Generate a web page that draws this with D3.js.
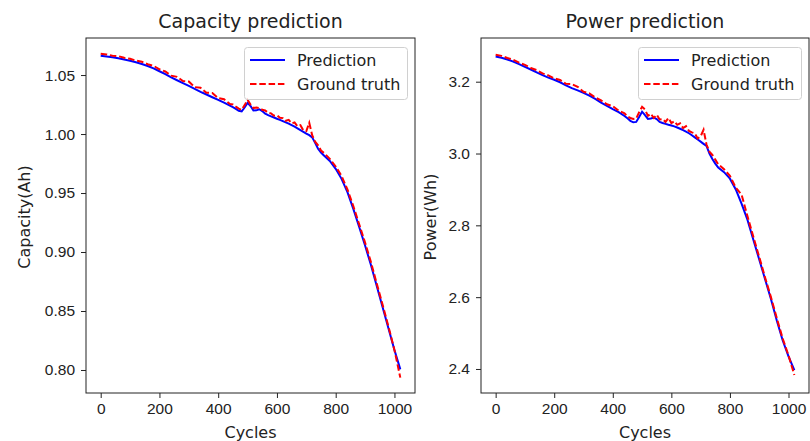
<!DOCTYPE html>
<html>
<head>
<meta charset="utf-8">
<script src="https://cdn.jsdelivr.net/npm/d3@7"></script>
<style>
	body { margin: 0; background: #fff; }
	svg { display: block; font-family: "DejaVu Sans", sans-serif; }
	.tick text { fill: #222; font-size: 15.5px; }
	.tick line { stroke: #222; }
</style>
</head>
<body>
<svg id="chart" width="810" height="441"></svg>
<script>

function whenDocumentLoaded(action) {
	if (document.readyState === "loading") {
		document.addEventListener("DOMContentLoaded", action);
	} else {
		action();
	}
}

const CYCLES = [0, 20, 40, 60, 80, 100, 120, 140, 160, 180, 200, 220, 240, 260, 280, 300, 320, 340, 360, 380, 400, 420, 440,
	450, 460, 470, 480, 490, 500, 510, 520, 530, 540, 550, 560, 570, 580, 590, 600, 610, 620, 630, 640,
	650, 660, 670, 680, 690, 700, 710, 720, 730, 740, 750, 760,
	780, 800, 820, 840, 860, 880, 900, 920, 940, 960, 980, 1000, 1020];

const CAPACITY_PRED = [1.0663, 1.0657, 1.0650, 1.0642, 1.0632, 1.0621, 1.0608, 1.0594, 1.0577, 1.0556, 1.0532, 1.0507, 1.0480, 1.0456, 1.0432, 1.0408, 1.0383, 1.0358, 1.0335, 1.0312, 1.0290, 1.0266, 1.0240,
	1.0228, 1.0213, 1.0197, 1.0192, 1.0225, 1.0264, 1.0238, 1.0199, 1.0201, 1.0210, 1.0195, 1.0172, 1.0160, 1.0150, 1.0140, 1.0130, 1.0120, 1.0110, 1.0099, 1.0088,
	1.0075, 1.0062, 1.0048, 1.0033, 1.0018, 1.0003, 0.9990, 0.9972, 0.9925, 0.9875, 0.9842, 0.9818,
	0.9772, 0.9705, 0.9620, 0.9508, 0.9365, 0.9212, 0.9055, 0.8890, 0.8710, 0.8530, 0.8350, 0.8170, 0.8005];

const CAPACITY_TRUE = [1.0680, 1.0675, 1.0664, 1.0660, 1.0646, 1.0638, 1.0622, 1.0613, 1.0592, 1.0578, 1.0549, 1.0530, 1.0495, 1.0485, 1.0450, 1.0445, 1.0398, 1.0392, 1.0350, 1.0348, 1.0305, 1.0295, 1.0255,
	1.0250, 1.0232, 1.0215, 1.0205, 1.0245, 1.0290, 1.0250, 1.0220, 1.0225, 1.0220, 1.0205, 1.0200, 1.0180, 1.0175, 1.0155, 1.0160, 1.0138, 1.0135, 1.0112, 1.0120,
	1.0090, 1.0098, 1.0065, 1.0075, 1.0030, 1.0025, 1.0095, 0.9990, 0.9935, 0.9905, 0.9860, 0.9840,
	0.9790, 0.9725, 0.9645, 0.9530, 0.9390, 0.9235, 0.9080, 0.8915, 0.8730, 0.8550, 0.8365, 0.8170, 0.7935];

const POWER_PRED = [3.2700, 3.2665, 3.2620, 3.2560, 3.2490, 3.2415, 3.2340, 3.2262, 3.2185, 3.2115, 3.2055, 3.1985, 3.1900, 3.1820, 3.1760, 3.1690, 3.1610, 3.1520, 3.1420, 3.1325, 3.1235, 3.1150, 3.1045,
	3.0980, 3.0910, 3.0870, 3.0880, 3.1020, 3.1165, 3.1070, 3.0965, 3.0975, 3.1000, 3.0960, 3.0880, 3.0850, 3.0825, 3.0800, 3.0780, 3.0755, 3.0725, 3.0690, 3.0650,
	3.0610, 3.0565, 3.0510, 3.0450, 3.0390, 3.0330, 3.0270, 3.0210, 3.0000, 2.9850, 2.9720, 2.9610,
	2.9480, 2.9300, 2.9000, 2.8600, 2.8150, 2.7600, 2.7050, 2.6500, 2.5950, 2.5350, 2.4800, 2.4350, 2.3970];

const POWER_TRUE = [3.2750, 3.2720, 3.2660, 3.2610, 3.2530, 3.2470, 3.2380, 3.2325, 3.2230, 3.2175, 3.2090, 3.2050, 3.1940, 3.1935, 3.1860, 3.1720, 3.1675, 3.1560, 3.1480, 3.1370, 3.1320, 3.1195, 3.1120,
	3.1030, 3.0990, 3.0960, 3.0975, 3.1150, 3.1300, 3.1225, 3.1050, 3.1110, 3.0990, 3.1080, 3.0950, 3.0960, 3.0880, 3.0990, 3.0850, 3.0900, 3.0800, 3.0840, 3.0710,
	3.0760, 3.0630, 3.0590, 3.0560, 3.0420, 3.0480, 3.0660, 3.0250, 3.0050, 2.9960, 2.9830, 2.9700,
	2.9560, 2.9380, 2.9050, 2.8850, 2.8250, 2.7680, 2.7120, 2.6550, 2.6000, 2.5420, 2.4850, 2.4380, 2.3830];

const CYCLE_TICKS = [0, 200, 400, 600, 800, 1000];
const CAPACITY_TICKS = [0.80, 0.85, 0.90, 0.95, 1.00, 1.05];
const POWER_TICKS = [2.4, 2.6, 2.8, 3.0, 3.2];
const SERIES_NAMES = ['Prediction', 'Ground truth'];

class LinePanel {
	constructor(svg, opts) {
		this.svg = svg;
		this.opts = opts;
		this.scale = {};
		this.scale.x = d3.scaleLinear()
			.domain([-50, 1070])
			.range([opts.left, opts.right]);
		this.scale.y = d3.scaleLinear()
			.domain(opts.yDomain)
			.range([393, 38]);
	}

	show() {
		const o = this.opts;
		const g = this.svg.append("g");
		const pred = CYCLES.map((c, i) => ({ x: c, y: o.pred[i] }));
		const truth = CYCLES.map((c, i) => ({ x: c, y: o.truth[i] }));
		const line = d3.line()
			.x((d) => this.scale.x(d.x))
			.y((d) => this.scale.y(d.y));

		g.append("path")
			.datum(pred)
			.attr("d", line)
			.attr("fill", "none")
			.attr("stroke", "#0000ff")
			.attr("stroke-width", 2);
		g.append("path")
			.datum(truth)
			.attr("d", line)
			.attr("fill", "none")
			.attr("stroke", "#ff0000")
			.attr("stroke-width", 2)
			.attr("stroke-dasharray", "6.5,2.8");

		const xAxis = d3.axisBottom(this.scale.x).tickValues(CYCLE_TICKS)
			.tickSize(5).tickSizeOuter(0).tickPadding(5).tickFormat(d3.format("d"));
		const yAxis = d3.axisLeft(this.scale.y).tickValues(o.yTicks)
			.tickSize(5).tickSizeOuter(0).tickPadding(6).tickFormat(d3.format(o.yFormat));
		const gx = g.append("g")
			.attr("transform", "translate(0,393)")
			.call(xAxis);
		const gy = g.append("g")
			.attr("transform", `translate(${o.left},0)`)
			.call(yAxis);
		gx.select(".domain").remove();
		gy.select(".domain").remove();
		g.selectAll(".tick text").attr("font-family", null).attr("font-size", null);

		// frame
		g.append("rect")
			.attr("x", o.left).attr("y", 38)
			.attr("width", o.right - o.left).attr("height", 355)
			.attr("fill", "none")
			.attr("stroke", "#222")
			.attr("stroke-width", 1);

		const cx = (o.left + o.right) / 2;
		g.append("text")
			.attr("x", cx).attr("y", 28)
			.attr("text-anchor", "middle")
			.attr("font-size", 19)
			.attr("fill", "#222")
			.text(o.title);
		g.append("text")
			.attr("x", cx).attr("y", 438)
			.attr("text-anchor", "middle")
			.attr("font-size", 16)
			.attr("fill", "#222")
			.text("Cycles");
		g.append("text")
			.attr("transform", `translate(${o.yLabelX},217) rotate(-90)`)
			.attr("text-anchor", "middle")
			.attr("dy", "0.35em")
			.attr("font-size", 16)
			.attr("fill", "#222")
			.text(o.yLabel);

		// legend
		const lg = g.append("g").attr("transform", `translate(${o.right - 171},47)`);
		lg.append("rect")
			.attr("x", 0.5).attr("y", 0.5)
			.attr("width", 163).attr("height", 52)
			.attr("rx", 3)
			.attr("fill", "#fff").attr("fill-opacity", 0.8)
			.attr("stroke", "#d0d0d0");
		SERIES_NAMES.forEach((name, i) => {
			const yy = 13 + i * 24;
			lg.append("line")
				.attr("x1", 6).attr("x2", 41)
				.attr("y1", yy).attr("y2", yy)
				.attr("stroke", i === 0 ? "#0000ff" : "#ff0000")
				.attr("stroke-width", 2)
				.attr("stroke-dasharray", i === 0 ? null : "6.5,2.8");
			lg.append("text")
				.attr("x", 53).attr("y", yy)
				.attr("dy", "0.35em")
				.attr("font-size", 16)
				.attr("fill", "#222")
				.text(name);
		});
	}
}

whenDocumentLoaded(() => {
	const svg = d3.select("#chart");

	new LinePanel(svg, {
		left: 86, right: 415,
		yDomain: [0.7805, 1.0814],
		yTicks: CAPACITY_TICKS, yFormat: ".2f",
		pred: CAPACITY_PRED, truth: CAPACITY_TRUE,
		title: "Capacity prediction", yLabel: "Capacity(Ah)", yLabelX: 24
	}).show();

	new LinePanel(svg, {
		left: 481, right: 809,
		yDomain: [2.3331, 3.3217],
		yTicks: POWER_TICKS, yFormat: ".1f",
		pred: POWER_PRED, truth: POWER_TRUE,
		title: "Power prediction", yLabel: "Power(Wh)", yLabelX: 430
	}).show();
});
</script>
</body>
</html>
